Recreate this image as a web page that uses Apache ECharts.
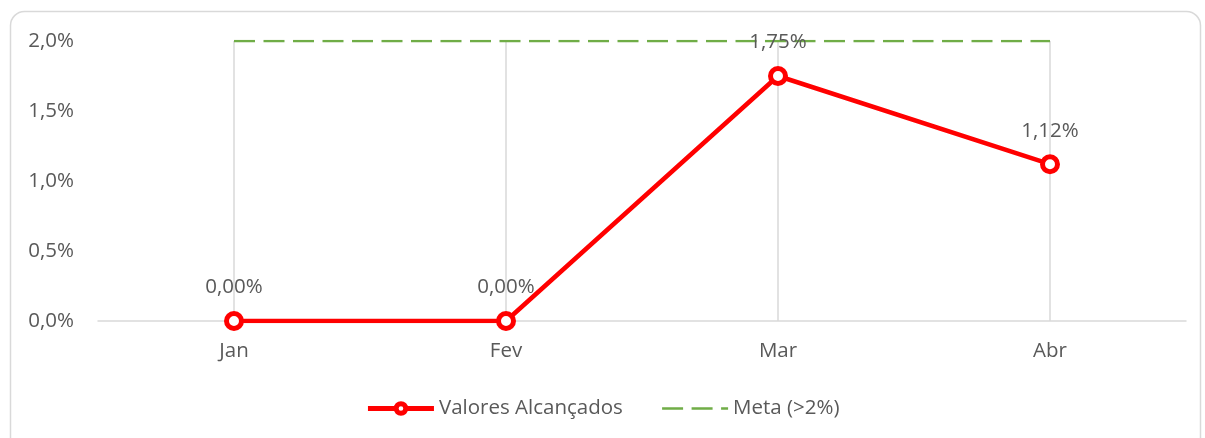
<!DOCTYPE html>
<html>
<head>
<meta charset="utf-8">
<script src="https://cdn.jsdelivr.net/npm/echarts@6/dist/echarts.min.js"></script>
<style>
  html, body { margin: 0; padding: 0; background: #fff; }
  #chart { width: 1205px; height: 438px; }
</style>
</head>
<body>
<div id="chart"></div>
<script>
const months = ['Jan', 'Fev', 'Mar', 'Abr']
const valores = [0, 0, 1.75, 1.12]
const meta = [2, 2, 2, 2]
const yTicks = [0, 0.5, 1, 1.5, 2]

const fontFamily = '"Open Sans", "Noto Sans", sans-serif'
const textColor = '#595959'
const gridColor = '#d9d9d9'
const fontSize = 20.5

function pct(v, digits) {
  return v.toFixed(digits).replace('.', ',') + '%'
}

const chart = echarts.init(document.getElementById('chart'))

const option = {
  backgroundColor: '#fff',
  animation: false,
  textStyle: { fontFamily: fontFamily },
  graphic: [
    {
      type: 'rect',
      silent: true,
      shape: { x: 10.5, y: 11.5, width: 1190, height: 440, r: 14 },
      style: { fill: 'none', stroke: '#d9d9d9', lineWidth: 1.5 }
    }
  ],
  grid: { left: 98, right: 19, top: 41, bottom: 117 },
  legend: {
    left: 'center',
    top: 393,
    itemWidth: 66,
    itemHeight: 12,
    itemGap: 38,
    textStyle: { color: textColor, fontSize: fontSize, fontFamily: fontFamily },
    data: [
      {
        name: 'Valores Alcançados',
        lineStyle: { width: 5 },
        itemStyle: { borderWidth: 5 }
      },
      { name: 'Meta (>2%)', itemStyle: { opacity: 0 }, lineStyle: { width: 2.5 } }
    ]
  },
  xAxis: {
    type: 'category',
    data: months,
    boundaryGap: true,
    axisLine: { lineStyle: { color: gridColor, width: 1.5 } },
    axisTick: { show: false },
    axisLabel: { color: textColor, fontSize: fontSize, margin: 20 },
    splitLine: { show: false }
  },
  yAxis: {
    type: 'value',
    min: yTicks[0],
    max: yTicks[yTicks.length - 1],
    interval: 0.5,
    axisLine: { show: false },
    axisTick: { show: false },
    splitLine: { show: false },
    axisLabel: {
      color: textColor,
      fontSize: fontSize,
      margin: 24,
      formatter: v => pct(v, 1)
    }
  },
  series: [
    {
      name: 'Meta (>2%)',
      type: 'line',
      data: meta,
      symbol: 'none',
      z: 2,
      lineStyle: { color: '#70AD47', width: 2.5, type: [21, 8.5] },
      itemStyle: { color: '#70AD47' },
      markLine: {
        silent: true,
        symbol: 'none',
        z: 1,
        label: { show: false },
        lineStyle: { color: gridColor, width: 1.5, type: 'solid' },
        data: months.map(m => ({ xAxis: m }))
      }
    },
    {
      name: 'Valores Alcançados',
      type: 'line',
      data: valores,
      z: 3,
      symbol: 'circle',
      symbolSize: 15,
      showAllSymbol: true,
      lineStyle: { color: '#FF0000', width: 4.5 },
      itemStyle: { color: '#fff', borderColor: '#FF0000', borderWidth: 5 },
      label: {
        show: true,
        position: 'top',
        distance: 13,
        color: textColor,
        fontSize: fontSize,
        formatter: p => pct(p.value, 2)
      }
    }
  ]
}

chart.setOption(option)
</script>
</body>
</html>
